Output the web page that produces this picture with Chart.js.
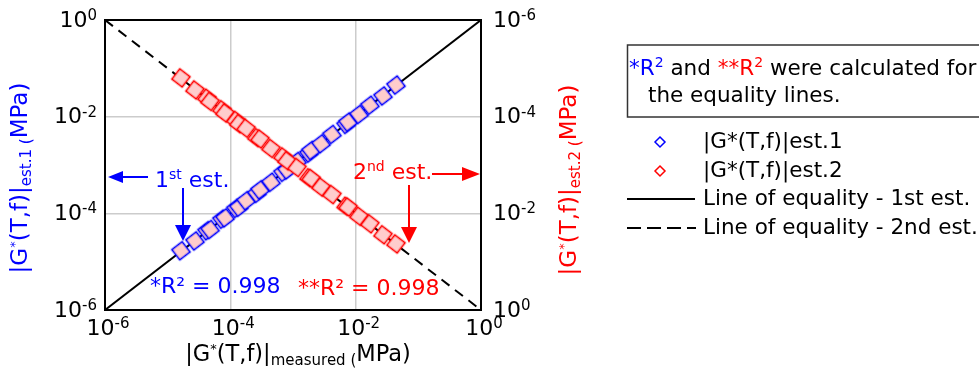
<!DOCTYPE html>
<html>
<head>
<meta charset="utf-8">
<script src="https://cdn.jsdelivr.net/npm/chart.js@4.4.1/dist/chart.umd.min.js"></script>
<style>
  html, body { margin: 0; padding: 0; background: #fff; }
  #wrap { width: 979px; height: 369px; position: relative; }
</style>
</head>
<body>
<div id="wrap"><canvas id="chart" width="979" height="369"></canvas></div>
<script>
// measured |G*| (MPa) and the two estimates
const measured = [1.63e-5, 2.73e-5, 4.24e-5, 4.74e-5, 7.36e-5, 8.22e-5, 1.23e-4, 1.37e-4, 1.78e-4,
  2.66e-4, 2.97e-4, 4.46e-4, 6.92e-4, 8.02e-4, 1.16e-3, 1.80e-3, 1.94e-3, 2.80e-3, 4.19e-3,
  7.02e-3, 7.54e-3, 1.13e-2, 1.69e-2, 2.73e-2, 4.40e-2];
const est1 = [1.68e-5, 2.68e-5, 4.35e-5, 4.62e-5, 7.55e-5, 8.05e-5, 1.26e-4, 1.34e-4, 1.82e-4,
  2.6e-4, 3.05e-4, 4.4e-4, 7.05e-4, 7.9e-4, 1.18e-3, 1.76e-3, 1.99e-3, 2.74e-3, 4.28e-3,
  6.9e-3, 7.7e-3, 1.11e-2, 1.72e-2, 2.68e-2, 4.5e-2];
const est2 = [1.58e-5, 2.8e-5, 4.15e-5, 4.85e-5, 7.2e-5, 8.4e-5, 1.2e-4, 1.4e-4, 1.74e-4,
  2.72e-4, 2.9e-4, 4.55e-4, 6.8e-4, 8.2e-4, 1.13e-3, 1.84e-3, 1.9e-3, 2.86e-3, 4.1e-3,
  7.15e-3, 7.4e-3, 1.15e-2, 1.65e-2, 2.78e-2, 4.3e-2];
const equalityLine = [1e-6, 1];
const tickValues = [1e-6, 1e-4, 1e-2, 1];
const tickExps = ['-6', '-4', '-2', '0'];
const r2Est1 = '0.998';
const r2Est2 = '0.998';

const BLUE = '#0000ff';
const RED = '#ff0000';
const PINK = '#ffcccc';
const FONT = '"DejaVu Sans", Verdana, sans-serif';

function pairs(xs, ys) {
  return xs.map((x, i) => ({ x: x, y: ys[i] }));
}

// square marker drawn on a small canvas, chart.js rotates it per point
function squareMarker(color) {
  const c = document.createElement('canvas');
  c.width = 22;
  c.height = 22;
  const g = c.getContext('2d');
  g.fillStyle = PINK;
  g.strokeStyle = color;
  g.lineWidth = 1.6;
  g.fillRect(4.5, 4.5, 13, 13);
  g.strokeRect(4.5, 4.5, 13, 13);
  return c;
}

function runsWidth(ctx, runs) {
  let w = 0;
  runs.forEach(r => {
    ctx.font = r.size + 'px ' + FONT;
    w += ctx.measureText(r.t).width;
  });
  return w;
}

// draws a list of text runs (normal / superscript / subscript pieces)
function drawRuns(ctx, runs, x, y, align, color) {
  const w = runsWidth(ctx, runs);
  let cx = align === 'center' ? x - w / 2 : align === 'right' ? x - w : x;
  ctx.textBaseline = 'middle';
  ctx.textAlign = 'left';
  runs.forEach(r => {
    ctx.font = r.size + 'px ' + FONT;
    ctx.fillStyle = r.c || color;
    ctx.fillText(r.t, cx, y + (r.dy || 0));
    cx += ctx.measureText(r.t).width;
  });
}

function arrow(ctx, x1, y1, x2, y2, color, head, half) {
  const a = Math.atan2(y2 - y1, x2 - x1);
  const bx = x2 - Math.cos(a) * head, by = y2 - Math.sin(a) * head;
  ctx.strokeStyle = color;
  ctx.fillStyle = color;
  ctx.lineWidth = 2;
  ctx.beginPath();
  ctx.moveTo(x1, y1);
  ctx.lineTo(bx, by);
  ctx.stroke();
  ctx.beginPath();
  ctx.moveTo(x2, y2);
  ctx.lineTo(bx - Math.sin(a) * half, by + Math.cos(a) * half);
  ctx.lineTo(bx + Math.sin(a) * half, by - Math.cos(a) * half);
  ctx.closePath();
  ctx.fill();
}

function titleRuns(sub, size) {
  return [
    { t: '|G', size: size },
    { t: '*', size: 13, dy: -5 },
    { t: '(T,f)|', size: size },
    { t: sub + ' (', size: 15, dy: 6 },
    { t: 'MPa)', size: size }
  ];
}

const decorations = {
  id: 'decorations',
  afterDraw(chart) {
    const ctx = chart.ctx;
    const area = chart.chartArea;
    const sx = chart.scales.x, sy = chart.scales.y, sy2 = chart.scales.y2;
    ctx.save();

    // frame incl. top line
    ctx.strokeStyle = '#000';
    ctx.lineWidth = 2;
    ctx.strokeRect(area.left, area.top, area.right - area.left, area.bottom - area.top);

    // tick labels
    tickValues.forEach((v, i) => {
      const runs = [{ t: '10', size: 22 }, { t: tickExps[i], size: 15, dy: -5 }];
      drawRuns(ctx, runs, sx.getPixelForValue(v) + 3, area.bottom + 19, 'center', '#000');
      drawRuns(ctx, runs, area.left - 8, sy.getPixelForValue(v) + 1, 'right', '#000');
      drawRuns(ctx, runs, area.right + 12, sy2.getPixelForValue(v) + 1, 'left', '#000');
    });

    // axis titles
    drawRuns(ctx, titleRuns('measured', 22.5), (area.left + area.right) / 2 + 5, area.bottom + 45, 'center', '#000');
    ctx.save();
    ctx.translate(21, (area.top + area.bottom) / 2 + 13);
    ctx.rotate(-Math.PI / 2);
    drawRuns(ctx, titleRuns('est.1', 23), 0, 0, 'center', BLUE);
    ctx.restore();
    ctx.save();
    ctx.translate(570, (area.top + area.bottom) / 2 + 15);
    ctx.rotate(-Math.PI / 2);
    drawRuns(ctx, titleRuns('est.2', 23), 0, 0, 'center', RED);
    ctx.restore();

    // annotations inside the plot
    drawRuns(ctx, [{ t: '1', size: 22 }, { t: 'st', size: 14, dy: -6 }, { t: ' est.', size: 22 }],
      area.left + 50, area.top + 161, 'left', BLUE);
    arrow(ctx, area.left + 43, area.top + 157, area.left + 3, area.top + 157, BLUE, 15, 6);
    arrow(ctx, area.left + 78, area.top + 168, area.left + 78, area.top + 221, BLUE, 16, 8);

    drawRuns(ctx, [{ t: '2', size: 22 }, { t: 'nd', size: 14, dy: -6 }, { t: ' est.', size: 22 }],
      area.left + 248, area.top + 153, 'left', RED);
    arrow(ctx, area.left + 327, area.top + 154, area.right - 1, area.top + 154, RED, 18, 7);
    arrow(ctx, area.left + 304, area.top + 165, area.left + 304, area.top + 223, RED, 16, 8);

    drawRuns(ctx, [{ t: '*R² = ' + r2Est1, size: 22 }], area.left + 45, area.top + 267, 'left', BLUE);
    drawRuns(ctx, [{ t: '**R² = ' + r2Est2, size: 22 }], area.left + 193, area.top + 269, 'left', RED);

    // legend
    ctx.strokeStyle = '#333';
    ctx.lineWidth = 1.5;
    ctx.strokeRect(627.5, 45, 400, 72);
    drawRuns(ctx, [
      { t: '*R', size: 21.5, c: BLUE },
      { t: '2', size: 14, dy: -6, c: BLUE },
      { t: ' and ', size: 21.5 },
      { t: '**R', size: 21.5, c: RED },
      { t: '2', size: 14, dy: -6, c: RED },
      { t: ' were calculated for', size: 21.5 }
    ], 629, 69, 'left', '#000');
    drawRuns(ctx, [{ t: 'the equality lines.', size: 21.5 }], 648, 96, 'left', '#000');

    const legendItems = [
      { label: '|G*(T,f)|est.1', color: BLUE, y: 142 },
      { label: '|G*(T,f)|est.2', color: RED, y: 171 }
    ];
    legendItems.forEach(it => {
      ctx.lineWidth = 1.5;
      ctx.strokeStyle = it.color;
      ctx.fillStyle = '#fff';
      ctx.beginPath();
      ctx.moveTo(660, it.y - 5);
      ctx.lineTo(665, it.y);
      ctx.lineTo(660, it.y + 5);
      ctx.lineTo(655, it.y);
      ctx.closePath();
      ctx.fill();
      ctx.stroke();
      drawRuns(ctx, [{ t: it.label, size: 21.5 }], 703, it.y, 'left', '#000');
    });
    ctx.strokeStyle = '#000';
    ctx.lineWidth = 2;
    ctx.beginPath();
    ctx.moveTo(627, 199);
    ctx.lineTo(695, 199);
    ctx.stroke();
    drawRuns(ctx, [{ t: 'Line of equality - 1st est.', size: 21.5 }], 703, 199, 'left', '#000');
    ctx.setLineDash([14, 6]);
    ctx.beginPath();
    ctx.moveTo(627, 228);
    ctx.lineTo(696, 228);
    ctx.stroke();
    ctx.setLineDash([]);
    drawRuns(ctx, [{ t: 'Line of equality - 2nd est.', size: 21.5 }], 703, 228, 'left', '#000');

    ctx.restore();
  }
};

const logTicks = scale => {
  scale.ticks = tickValues.map(v => ({ value: v }));
};

new Chart(document.getElementById('chart'), {
  type: 'scatter',
  data: {
    datasets: [
      {
        label: '|G*(T,f)|est.2',
        data: pairs(measured, est2),
        yAxisID: 'y2',
        pointStyle: squareMarker(RED),
        rotation: 37.6,
        pointRadius: 10,
        order: 0
      },
      {
        label: '|G*(T,f)|est.1',
        data: pairs(measured, est1),
        yAxisID: 'y',
        pointStyle: squareMarker(BLUE),
        rotation: -37.6,
        pointRadius: 10,
        order: 1
      },
      {
        label: 'Line of equality - 1st est.',
        data: pairs(equalityLine, equalityLine),
        yAxisID: 'y',
        showLine: true,
        pointRadius: 0,
        borderColor: '#000',
        borderWidth: 2,
        order: 2
      },
      {
        label: 'Line of equality - 2nd est.',
        data: pairs(equalityLine, equalityLine),
        yAxisID: 'y2',
        showLine: true,
        pointRadius: 0,
        borderColor: '#000',
        borderWidth: 2,
        borderDash: [10, 7],
        order: 3
      }
    ]
  },
  options: {
    responsive: false,
    animation: false,
    devicePixelRatio: 1,
    layout: { padding: { top: 20, left: 0, right: 0, bottom: 0 } },
    plugins: {
      legend: { display: false },
      tooltip: { enabled: false }
    },
    scales: {
      x: {
        type: 'logarithmic',
        min: 1e-6,
        max: 1,
        afterBuildTicks: logTicks,
        afterFit: s => { s.height = 59; },
        ticks: { display: false },
        grid: { color: '#cccccc', lineWidth: 1.5, drawTicks: false },
        border: { color: '#000', width: 2 }
      },
      y: {
        type: 'logarithmic',
        position: 'left',
        min: 1e-6,
        max: 1,
        afterBuildTicks: logTicks,
        afterFit: s => { s.width = 105; },
        ticks: { display: false },
        grid: { color: '#cccccc', lineWidth: 1.5, drawTicks: false },
        border: { color: '#000', width: 2 }
      },
      y2: {
        type: 'logarithmic',
        position: 'right',
        reverse: true,
        min: 1e-6,
        max: 1,
        afterBuildTicks: logTicks,
        afterFit: s => { s.width = 498; },
        ticks: { display: false },
        grid: { display: false, drawTicks: false },
        border: { color: '#000', width: 2 }
      }
    }
  },
  plugins: [decorations]
});
</script>
</body>
</html>
